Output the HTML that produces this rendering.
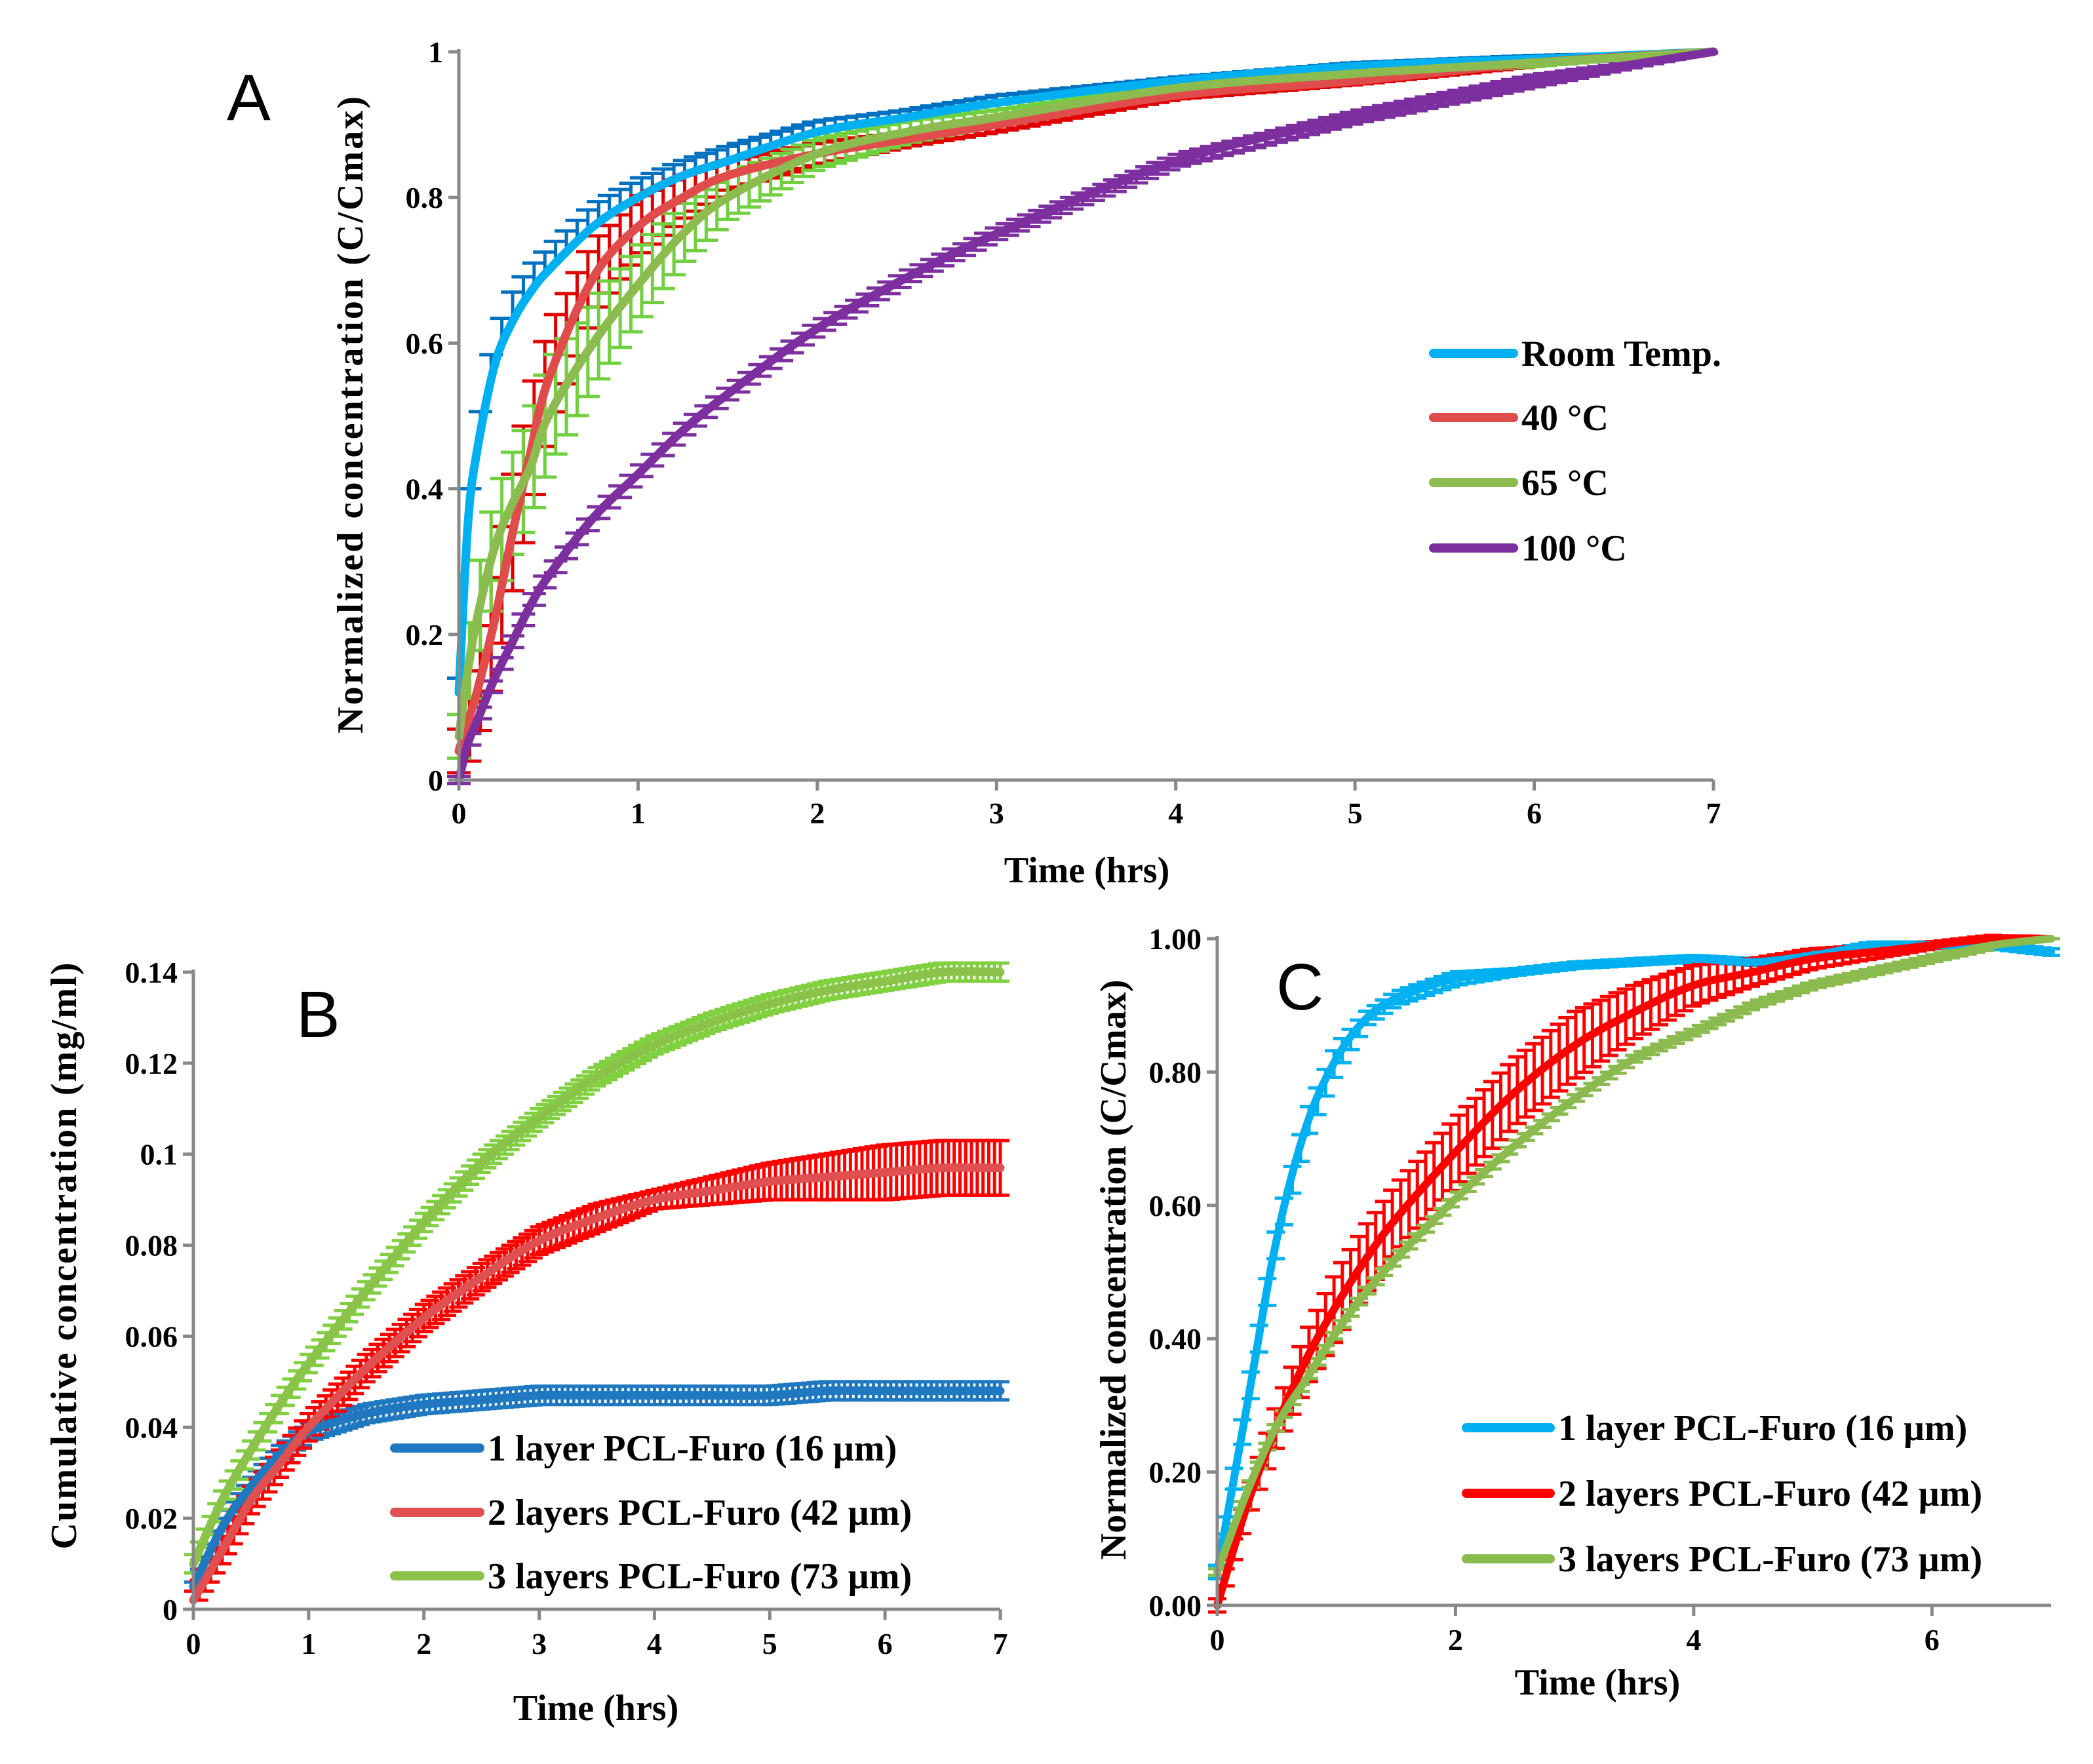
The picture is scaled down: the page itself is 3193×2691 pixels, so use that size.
<!DOCTYPE html>
<html><head><meta charset="utf-8"><style>
html,body{margin:0;padding:0;background:#fff}
svg{display:block}
text{font-family:"Liberation Serif",serif;font-weight:bold;fill:#000}
.lt{font-family:"Liberation Sans",sans-serif;font-weight:normal}
</style></head><body>
<svg id="fig" width="3193" height="2691" viewBox="0 0 3193 2691" xmlns="http://www.w3.org/2000/svg"></svg>
<script>
// ---- Panel A data ----
const tA = [0,0.05,0.1,0.2,0.3,0.4,0.5,0.75,1,1.25,1.5,2,2.5,3,4,5,6,7];
const roomA = [0.12,0.35,0.45,0.57,0.63,0.67,0.7,0.76,0.8,0.83,0.85,0.89,0.91,0.93,0.96,0.98,0.99,1.0];
const c40A = [0.04,0.08,0.12,0.22,0.34,0.45,0.55,0.69,0.76,0.8,0.83,0.86,0.88,0.9,0.94,0.96,0.985,1.0];
const c65A = [0.06,0.15,0.22,0.32,0.38,0.43,0.5,0.6,0.68,0.75,0.8,0.86,0.89,0.91,0.95,0.97,0.985,1.0];
const c100A = [0.0,0.05,0.08,0.14,0.19,0.24,0.28,0.36,0.42,0.48,0.53,0.62,0.69,0.75,0.85,0.91,0.96,1.0];
const errRoomA = [0.02,0.03,0.03,0.04,0.04,0.035,0.03,0.03,0.025,0.02,0.02,0.015,0.01,0.01,0.005,0.005,0.005,0];
const err40A = [0.03,0.06,0.07,0.08,0.08,0.08,0.07,0.05,0.04,0.03,0.02,0.015,0.01,0.01,0.005,0.005,0.005,0];
const err65A = [0.03,0.05,0.06,0.07,0.07,0.07,0.07,0.06,0.05,0.04,0.03,0.02,0.015,0.01,0.005,0.005,0.005,0];
const err100A = [0.005,0.008,0.008,0.008,0.008,0.008,0.008,0.008,0.008,0.008,0.008,0.008,0.008,0.008,0.008,0.008,0.008,0];
const yTicksA = ["0","0.2","0.4","0.6","0.8","1"];
const xTicksA = ["0","1","2","3","4","5","6","7"];
// ---- Panel B data ----
const tB = [0,0.25,0.5,0.75,1,1.5,2,2.5,3,3.5,4,4.5,5,5.5,6,6.5,7];
const l1B = [0.005,0.018,0.027,0.034,0.039,0.043,0.045,0.046,0.047,0.047,0.047,0.047,0.047,0.048,0.048,0.048,0.048];
const l2B = [0.002,0.013,0.024,0.032,0.04,0.053,0.064,0.073,0.081,0.086,0.09,0.092,0.094,0.095,0.096,0.097,0.097];
const l3B = [0.01,0.024,0.035,0.045,0.054,0.07,0.085,0.098,0.108,0.117,0.124,0.129,0.133,0.136,0.138,0.14,0.14];
const e1B = [0.001,0.002,0.002,0.002,0.002,0.002,0.002,0.002,0.002,0.002,0.002,0.002,0.002,0.002,0.002,0.002,0.002];
const e2B = [0.002,0.003,0.003,0.003,0.003,0.003,0.003,0.003,0.003,0.003,0.002,0.003,0.004,0.005,0.006,0.006,0.006];
const e3B = [0.002,0.002,0.002,0.002,0.002,0.002,0.002,0.002,0.002,0.002,0.002,0.002,0.002,0.002,0.002,0.002,0.002];
const yTicksB = ["0","0.02","0.04","0.06","0.08","0.1","0.12","0.14"];
const xTicksB = ["0","1","2","3","4","5","6","7"];
// ---- Panel C data ----
const tC = [0,0.25,0.5,0.75,1,1.25,1.5,2,2.5,3,3.5,4,4.5,5,5.5,6,6.5,7];
const l1C = [0.05,0.3,0.55,0.72,0.82,0.88,0.91,0.94,0.95,0.96,0.965,0.97,0.965,0.975,0.99,0.99,0.99,0.98];
const l2C = [0.0,0.15,0.27,0.37,0.45,0.52,0.58,0.68,0.77,0.84,0.89,0.93,0.95,0.97,0.98,0.99,1.0,1.0];
const l3C = [0.05,0.17,0.27,0.34,0.41,0.47,0.52,0.61,0.69,0.76,0.82,0.86,0.9,0.93,0.95,0.97,0.99,1.0];
const e1C = [0.01,0.02,0.02,0.02,0.02,0.01,0.01,0.01,0.005,0.005,0.005,0.005,0.005,0.005,0.005,0.005,0.005,0.005];
const e2C = [0.01,0.02,0.03,0.04,0.05,0.05,0.05,0.05,0.05,0.05,0.04,0.03,0.02,0.015,0.01,0.005,0.005,0];
const e3C = [0.005,0.005,0.005,0.005,0.005,0.005,0.005,0.005,0.005,0.005,0.005,0.005,0.005,0.005,0.005,0.005,0.005,0];
const yTicksC = ["0.00","0.20","0.40","0.60","0.80","1.00"];
const xTicksC = ["0","2","4","6"];

const NS="http://www.w3.org/2000/svg";
const svg=document.getElementById('fig');
function mk(tag,attrs,parent){const e=document.createElementNS(NS,tag);for(const k in attrs)e.setAttribute(k,attrs[k]);(parent||svg).appendChild(e);return e;}
function txt(s,attrs,parent){const e=mk('text',attrs,parent);e.textContent=s;return e;}
function interp(ts,vs,t){for(let i=0;i<ts.length-1;i++){if(t<=ts[i+1]){const f=(t-ts[i])/(ts[i+1]-ts[i]);return vs[i]+f*(vs[i+1]-vs[i]);}}return vs[vs.length-1];}
function smoothPath(pts){let d='M'+pts[0][0]+','+pts[0][1];for(let i=0;i<pts.length-1;i++){const p0=pts[Math.max(0,i-1)],p1=pts[i],p2=pts[i+1],p3=pts[Math.min(pts.length-1,i+2)];const c1=[p1[0]+(p2[0]-p0[0])/6,p1[1]+(p2[1]-p0[1])/6],c2=[p2[0]-(p3[0]-p1[0])/6,p2[1]-(p3[1]-p1[1])/6];d+=' C'+c1[0]+','+c1[1]+' '+c2[0]+','+c2[1]+' '+p2[0]+','+p2[1];}return d;}

function panel(cfg){
  const g=mk('g',{});
  
  
  const X=v=>cfg.x0+(v-cfg.xmin)/(cfg.xmax-cfg.xmin)*(cfg.x1-cfg.x0);
  const Y=v=>cfg.y0-(v-cfg.ymin)/(cfg.ymax-cfg.ymin)*(cfg.y0-cfg.y1);
  cfg.series.forEach(s=>{
    const eg=mk('g',{stroke:s.ecol,'stroke-width':5,fill:'none'},g);
    
    
    for(let t=cfg.xmin;t<=s.t[s.t.length-1]+1e-9;t+=cfg.estep){
      const v=interp(s.t,s.v,t),e=interp(s.t,s.e,t);
      const x=X(t);const yt=Y(v+e),yb=Y(v-e);
      const top=s.mode!=='down'?yt:Y(v), bot=s.mode!=='up'?yb:Y(v);
      mk('line',{x1:x,y1:top,x2:x,y2:bot},eg);
      if(s.mode!=='down')mk('line',{x1:x-cfg.cap,y1:yt,x2:x+cfg.cap,y2:yt},eg);
      if(s.mode!=='up')mk('line',{x1:x-cfg.cap,y1:yb,x2:x+cfg.cap,y2:yb},eg);
    }
  });
  cfg.series.forEach(s=>{
    const pts=s.t.map((t,i)=>[X(t),Y(s.v[i])]);
    const p=mk('path',{d:smoothPath(pts),stroke:s.col,'stroke-width':cfg.lw,fill:'none','stroke-linecap':'round','stroke-linejoin':'round'},g);
    
    
  });
  const ax=mk('g',{stroke:'#888','stroke-width':5},g);
  
  
  mk('line',{x1:cfg.x0,y1:cfg.y1-4,x2:cfg.x0,y2:cfg.y0},ax);
  mk('line',{x1:cfg.x0,y1:cfg.y0,x2:cfg.x1,y2:cfg.y0},ax);
  cfg.yt.forEach(s=>{const y=Y(parseFloat(s));mk('line',{x1:cfg.x0-16,y1:y,x2:cfg.x0,y2:y},ax);
    const tl=txt(s,{x:cfg.x0-24,y:y+16,'text-anchor':'end','font-size':cfg.fs},g);
    
    });
  cfg.xt.forEach(s=>{const x=X(parseFloat(s));mk('line',{x1:x,y1:cfg.y0,x2:x,y2:cfg.y0+16},ax);
    const tl=txt(s,{x:x,y:cfg.y0+cfg.xlOff,'text-anchor':'middle','font-size':cfg.fs},g);
    
    });
  const xt=txt('Time (hrs)',{x:cfg.xtx,y:cfg.xty,'text-anchor':'middle','font-size':56},g);
  
  
  const yt=txt(cfg.ytitle,{x:0,y:0,'text-anchor':'middle','font-size':56,textLength:cfg.ytl,lengthAdjust:'spacing',transform:`translate(${cfg.ytx},${cfg.yty}) rotate(-90)`},g);
  
  
  const pl=txt(cfg.letter,{x:cfg.lx,y:cfg.ly,'font-size':100,class:'lt'},g);
  
  
  cfg.series.forEach((s,i)=>{
    const lg=mk('g',{},g);
    
    
    const y=cfg.legY[i];
    mk('line',{x1:cfg.legX,y1:y,x2:cfg.legX+cfg.legW,y2:y,stroke:s.col,'stroke-width':14,'stroke-linecap':'round'},lg);
    txt(s.label,{x:cfg.legX+cfg.legW+12,y:y+19,'font-size':56},lg);
  });
}

panel({name:'panel-a',letter:'A',lx:346,ly:183,x0:700,x1:2614,y0:1190,y1:79,xmin:0,xmax:7,ymin:0,ymax:1,
  estep:0.06,cap:18,lw:13,fs:46,xlOff:66,yt:yTicksA,xt:xTicksA,xtx:1658,xty:1346,ytx:553,yty:633,ytl:972,
  ytitle:'Normalized concentration (C/Cmax)',legX:2187,legW:122,legY:[539,637,736,836],
  series:[
   {id:'room-temp',label:'Room Temp.',t:tA,v:roomA,e:errRoomA,col:'#00b0f0',ecol:'#0070c0',mode:'up'},
   {id:'40c',label:'40 °C',t:tA,v:c40A,e:err40A,col:'#e04b4b',ecol:'#e00000',mode:'both'},
   {id:'65c',label:'65 °C',t:tA,v:c65A,e:err65A,col:'#8cbb50',ecol:'#70d040',mode:'both'},
   {id:'100c',label:'100 °C',t:tA,v:c100A,e:err100A,col:'#7d2fa0',ecol:'#7d2fa0',mode:'both'}]});

panel({name:'panel-b',letter:'B',lx:452,ly:1582,x0:295,x1:1526,y0:2455,y1:1483,xmin:0,xmax:7,ymin:0,ymax:0.14,
  estep:0.05,cap:14,lw:13,fs:46,xlOff:68,yt:yTicksB,xt:xTicksB,xtx:909,xty:2624,ytx:116,yty:1916,ytl:895,
  ytitle:'Cumulative concentration (mg/ml)',legX:602,legW:130,legY:[2209,2307,2404],
  series:[
   {id:'b-1-layer',label:'1 layer PCL-Furo (16 µm)',t:tB,v:l1B,e:e1B,col:'#1f78c0',ecol:'#1f78c0',mode:'both'},
   {id:'b-2-layers',label:'2 layers PCL-Furo (42 µm)',t:tB,v:l2B,e:e2B,col:'#e05050',ecol:'#ff0000',mode:'both'},
   {id:'b-3-layers',label:'3 layers PCL-Furo (73 µm)',t:tB,v:l3B,e:e3B,col:'#8bc34a',ecol:'#80d040',mode:'both'}]});

panel({name:'panel-c',letter:'C',lx:1947,ly:1540,x0:1857,x1:3129,y0:2449,y1:1432,xmin:0,xmax:7,ymin:0,ymax:1,
  estep:0.07,cap:14,lw:12,fs:46,xlOff:68,yt:yTicksC,xt:xTicksC,xtx:2437,xty:2585,ytx:1717,yty:1937,ytl:885,
  ytitle:'Normalized concentration (C/Cmax)',legX:2237,legW:128,legY:[2178,2278,2378],
  series:[
   {id:'c-1-layer',label:'1 layer PCL-Furo (16 µm)',t:tC,v:l1C,e:e1C,col:'#00b0f0',ecol:'#00b0f0',mode:'both'},
   {id:'c-2-layers',label:'2 layers PCL-Furo (42 µm)',t:tC,v:l2C,e:e2C,col:'#ff0000',ecol:'#ff0000',mode:'both'},
   {id:'c-3-layers',label:'3 layers PCL-Furo (73 µm)',t:tC,v:l3C,e:e3C,col:'#8bbb4f',ecol:'#8bbb4f',mode:'both'}]});
</script>
</body></html>
